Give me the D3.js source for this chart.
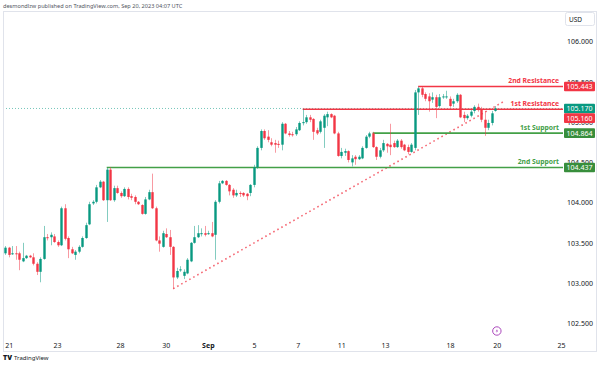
<!DOCTYPE html>
<html><head><meta charset="utf-8">
<script src="https://cdn.jsdelivr.net/npm/d3@7"></script>
<style>html,body{margin:0;padding:0;background:#fff;}svg{display:block;font-family:"Noto Sans",Roboto,"DejaVu Sans",sans-serif;}</style>
</head><body><svg id="c" width="600" height="367"></svg>
<script>
// 4H candles, Aug 21 – Sep 20 2023 (index = candle number)
const open = [103.37,103.44,103.36,103.37,103.37,103.27,103.31,103.34,103.32,103.24,
103.14,103.30,103.57,103.57,103.58,103.51,103.47,103.93,103.56,103.42,
103.35,103.39,103.45,103.56,103.73,103.99,104.01,104.19,104.26,104.03,
104.41,104.03,104.18,104.12,104.08,104.17,104.08,104.07,104.01,103.97,
103.86,104.04,104.13,103.93,103.53,103.45,103.61,103.57,103.45,103.07,
103.16,103.09,103.12,103.27,103.50,103.57,103.61,103.62,103.61,103.62,
103.60,104.01,104.24,104.27,104.22,104.16,104.09,104.12,104.12,104.11,
104.12,104.22,104.44,104.68,104.89,104.82,104.75,104.74,104.73,104.72,
104.98,104.86,104.85,104.85,104.90,104.99,105.00,105.06,105.04,104.90,
104.88,104.93,105.06,105.10,105.08,104.86,104.58,104.62,104.64,104.50,
104.57,104.54,104.55,104.68,104.82,104.86,104.69,104.57,104.65,104.73,
104.72,104.74,104.69,104.77,104.72,104.69,104.63,104.68,105.37,105.42,
105.35,105.32,105.28,105.31,105.20,105.31,105.31,105.29,105.23,105.26,
105.34,105.09,105.05,105.08,105.14,105.19,105.16,105.03,104.93,104.99,
105.14];
const high = [103.46,103.45,103.46,103.46,103.39,103.50,103.35,103.35,103.37,103.26,
103.32,103.71,103.61,103.63,103.61,103.53,103.95,103.98,103.58,103.45,
103.41,103.47,103.58,103.75,104.01,104.03,104.22,104.28,104.27,104.43,
104.44,104.21,104.21,104.14,104.19,104.19,104.11,104.09,104.02,103.98,
104.07,104.16,104.36,103.95,103.58,103.65,103.68,103.66,103.46,103.19,
103.21,103.17,103.31,103.51,103.71,103.72,103.68,103.71,103.65,103.76,
104.03,104.27,104.28,104.28,104.23,104.18,104.16,104.14,104.13,104.12,
104.23,104.47,104.70,104.91,104.91,104.90,104.80,104.78,104.77,105.00,
104.99,104.89,104.88,104.94,105.01,105.16,105.09,105.09,105.05,104.93,
105.03,105.10,105.13,105.11,105.09,104.88,104.68,104.67,104.65,104.59,
104.59,104.59,104.70,104.84,104.88,104.88,104.70,104.68,104.78,104.74,
104.98,104.77,104.79,104.79,104.73,104.72,104.74,105.40,105.44,105.44,
105.37,105.36,105.37,105.34,105.35,105.35,105.39,105.32,105.29,105.36,
105.35,105.13,105.10,105.15,105.21,105.23,105.19,105.14,105.03,105.14,
105.20];
const low = [103.35,103.32,103.35,103.29,103.16,103.26,103.30,103.31,103.22,103.10,
103.01,103.29,103.53,103.47,103.50,103.45,103.46,103.53,103.31,103.36,
103.29,103.37,103.44,103.55,103.72,103.97,103.99,104.18,104.02,103.76,
104.02,104.01,104.11,104.06,104.07,104.04,104.03,103.98,103.97,103.85,
103.85,104.03,103.92,103.52,103.39,103.44,103.56,103.35,102.93,103.05,
103.14,103.05,103.11,103.26,103.49,103.56,103.58,103.58,103.60,103.57,
103.29,103.99,104.23,104.21,104.09,104.06,104.07,104.07,104.07,104.03,
104.08,104.19,104.42,104.65,104.78,104.75,104.70,104.62,104.68,104.65,
104.85,104.82,104.82,104.83,104.89,104.96,104.98,105.00,104.78,104.84,
104.86,104.68,104.95,105.05,104.85,104.57,104.55,104.58,104.50,104.45,
104.47,104.53,104.54,104.67,104.80,104.68,104.53,104.55,104.63,104.62,
104.59,104.68,104.68,104.67,104.64,104.60,104.62,104.65,105.09,105.31,
105.26,105.13,105.24,105.05,105.18,105.29,105.29,105.18,105.19,105.24,
105.05,105.00,105.03,105.06,105.11,105.13,105.00,104.83,104.90,104.96,
105.13];
const close = [103.44,103.35,103.37,103.36,103.29,103.31,103.34,103.32,103.24,103.14,
103.30,103.57,103.56,103.60,103.51,103.47,103.93,103.55,103.42,103.37,
103.39,103.45,103.56,103.72,103.98,104.01,104.19,104.26,104.03,104.41,
104.03,104.18,104.12,104.08,104.17,104.07,104.06,104.01,103.98,103.86,
104.04,104.13,103.93,103.53,103.49,103.62,103.57,103.45,103.07,103.15,
103.17,103.14,103.29,103.50,103.57,103.62,103.62,103.60,103.62,103.58,
104.01,104.24,104.27,104.22,104.14,104.09,104.12,104.11,104.09,104.08,
104.22,104.44,104.68,104.89,104.80,104.78,104.72,104.72,104.72,104.98,
104.86,104.84,104.84,104.91,104.99,105.00,105.06,105.03,104.88,104.86,
105.01,105.08,105.10,105.06,104.86,104.58,104.63,104.64,104.53,104.55,
104.54,104.57,104.68,104.82,104.86,104.69,104.57,104.65,104.74,104.70,
104.69,104.69,104.77,104.69,104.65,104.63,104.72,105.37,105.42,105.34,
105.29,105.26,105.31,105.19,105.31,105.32,105.32,105.20,105.26,105.34,
105.06,105.05,105.08,105.13,105.19,105.15,105.03,104.93,104.99,105.11,
105.17];

// date axis: label and candle index where each labelled day starts
const dayLabels = ["21","23","28","30","Sep","5","7","11","13","18","20","25"];
const dayIndex  = [1,14.8,32.8,45.9,57.9,71.1,83.6,96,108.5,127.1,140.5,158.8];

// price axis ticks
const priceTicks = [102.5,103,103.5,104,104.5,105,105.5,106];

// support / resistance levels
const levelNames  = ["2nd Resistance","1st Resistance","1st Support","2nd Support"];
const levelValues = [105.443,105.160,104.864,104.437];
const levelFrom   = [118,85,105,29];
const levelKinds  = ["res","res","sup","sup"];

// rising trend line (candle index, price)
const trendIdx   = [48,142.2];
const trendPrice = [102.93,105.25];

const lastPrice = 105.170;
const eventIndex = 140.5;

const UP="#089981", DN="#f23645", RES="#f23645", SUP="#43a047", SUPBOX="#388e3c";

const svg = d3.select("#c");
const PL=3, PR=563, PT=11, PB=339;
const x = d3.scaleLinear().domain([-1.5,159.4]).range([0,563]);
const y = d3.scaleLinear().domain([102.5,106]).range([323.3,41.7]);

// header
svg.append("text").attr("x",3).attr("y",7.5).attr("font-size",5.6).attr("fill","#50535e")
  .text("desmondlzw published on TradingView.com, Sep 20, 2023 04:07 UTC");

// frame
svg.append("rect").attr("x",3.5).attr("y",11.5).attr("width",593).attr("height",340)
  .attr("fill","#fff").attr("stroke","#e0e3eb").attr("stroke-width",1);

svg.append("defs").append("clipPath").attr("id","clip").append("rect")
  .attr("x",PL+1).attr("y",PT+1).attr("width",PR-PL-1).attr("height",PB-PT-1);
const plot = svg.append("g").attr("clip-path","url(#clip)");

// current price dotted line
plot.append("line").attr("x1",PL).attr("x2",PR).attr("y1",y(lastPrice)).attr("y2",y(lastPrice))
  .attr("stroke",UP).attr("stroke-opacity",0.55).attr("stroke-width",1).attr("stroke-dasharray","1,2");

// trend line
plot.append("line").attr("x1",x(trendIdx[0])).attr("y1",y(trendPrice[0]))
  .attr("x2",x(trendIdx[1])).attr("y2",y(trendPrice[1]))
  .attr("stroke",DN).attr("stroke-opacity",0.75).attr("stroke-width",1.6).attr("stroke-dasharray","1.6,3");

// level lines
levelValues.forEach((v,i)=>{
  const col = levelKinds[i]==="res"?RES:SUP;
  plot.append("line").attr("x1",x(levelFrom[i])).attr("x2",PR).attr("y1",y(v)).attr("y2",y(v))
    .attr("stroke",col).attr("stroke-width",1.6);
});

// candles
const idx = d3.range(open.length);
const bw = 2.4;
const cg = plot.append("g");
cg.selectAll("line.w").data(idx).join("line").attr("class","w")
  .attr("x1",i=>Math.round(x(i))+0.5).attr("x2",i=>Math.round(x(i))+0.5)
  .attr("y1",i=>y(high[i])).attr("y2",i=>y(low[i]))
  .attr("stroke",i=>close[i]>=open[i]?UP:DN).attr("stroke-opacity",0.5).attr("stroke-width",1);
cg.selectAll("rect.b").data(idx).join("rect").attr("class","b")
  .attr("x",i=>Math.round(x(i))+0.5-bw/2).attr("width",bw)
  .attr("y",i=>y(Math.max(open[i],close[i])))
  .attr("height",i=>Math.max(1,Math.abs(y(open[i])-y(close[i]))))
  .attr("fill",i=>close[i]>=open[i]?UP:DN);

// level text labels
levelValues.forEach((v,i)=>{
  const col = levelKinds[i]==="res"?RES:SUP;
  svg.append("text").attr("x",559).attr("y",y(v)-3.2).attr("text-anchor","end")
    .attr("font-size",6.8).attr("font-weight","bold").attr("fill",col).text(levelNames[i]);
});

// event marker
const ex = x(eventIndex);
svg.append("circle").attr("cx",ex).attr("cy",331).attr("r",4.2).attr("fill","#fff")
  .attr("stroke","#ab47bc").attr("stroke-width",1);
svg.append("path").attr("d",`M${ex+0.6},${328.6} L${ex-1.2},${331.4} L${ex+0.3},${331.4} L${ex-0.6},${333.6} L${ex+1.3},${330.5} L${ex-0.1},${330.5} Z`)
  .attr("fill","#ab47bc");

// price axis
const ya = svg.append("g").attr("transform",`translate(567,0)`)
  .call(d3.axisRight(y).tickValues(priceTicks).tickFormat(d3.format(".3f")).tickSize(0));
ya.select(".domain").remove();
ya.selectAll("text").attr("x",0).attr("font-size",7).attr("fill","#131722")
  .attr("font-family","\"Noto Sans\",Roboto,sans-serif");

// axis price labels
const boxes = [
  {v:levelValues[0], c:RES},
  {v:lastPrice, c:UP},
  {v:levelValues[1], c:RES},
  {v:levelValues[2], c:SUPBOX},
  {v:levelValues[3], c:SUPBOX}
];
const BH=9.6;
let prevBottom=-1e9;
boxes.forEach(b=>{
  let cy=y(b.v);
  if(cy-BH/2<prevBottom) cy=prevBottom+BH/2;
  prevBottom=cy+BH/2;
  svg.append("rect").attr("x",564).attr("y",cy-BH/2).attr("width",31).attr("height",BH)
    .attr("rx",1).attr("fill",b.c);
  svg.append("text").attr("x",579.5).attr("y",cy+2.5).attr("text-anchor","middle")
    .attr("font-size",7).attr("fill","#fff").text(d3.format(".3f")(b.v));
});

// USD box
svg.append("rect").attr("x",565.5).attr("y",12.5).attr("width",29).attr("height",13).attr("rx",2)
  .attr("fill","#fff").attr("stroke","#e0e3eb");
svg.append("text").attr("x",569).attr("y",21.5).attr("font-size",6.5).attr("fill","#131722").text("USD");

// time axis
const xa = svg.append("g").attr("transform",`translate(0,${PB})`)
  .call(d3.axisBottom(x).tickValues(dayIndex).tickFormat((d,i)=>dayLabels[i]).tickSize(0));
xa.select(".domain").remove();
xa.selectAll("text").attr("y",4.5).attr("dy","0.71em").attr("font-size",7).attr("fill","#131722")
  .attr("font-family","\"Noto Sans\",Roboto,sans-serif")
  .attr("font-weight",(d,i)=>dayLabels[i]==="Sep"?"bold":"normal");

// footer logo
svg.append("text").attr("x",3).attr("y",360).attr("font-size",7).attr("font-weight",900)
  .attr("fill","#131722").text("TV");
svg.append("text").attr("x",14).attr("y",360).attr("font-size",6).attr("fill","#131722").text("TradingView");
</script></body></html>
